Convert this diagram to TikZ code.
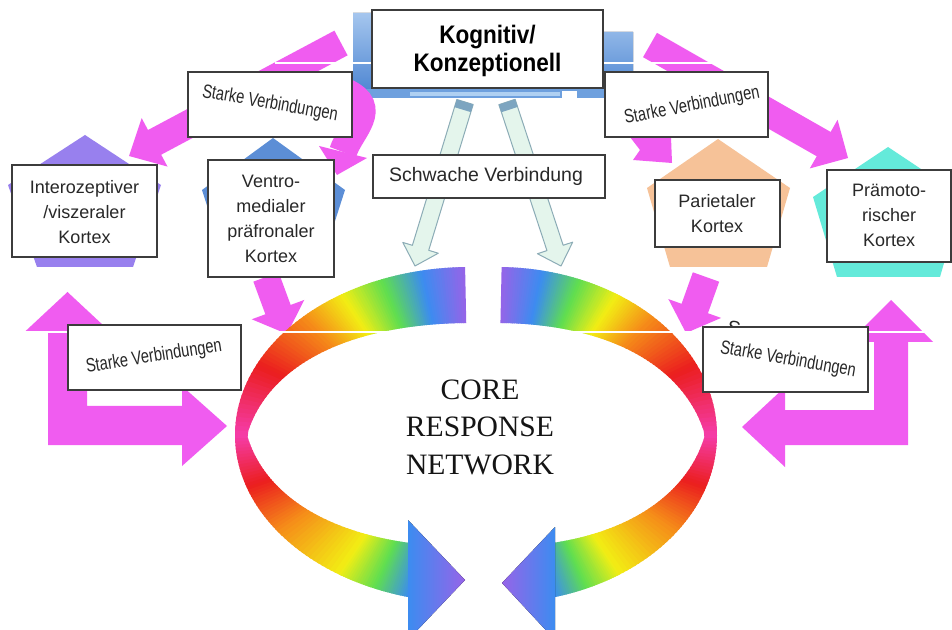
\documentclass[tikz,border=0pt]{standalone}
\usepackage{fontspec}
\setmainfont{Liberation Sans}
\newfontfamily\corefont{Liberation Serif}
\usetikzlibrary{calc,fit}
\definecolor{magf}{RGB}{240,92,240}
\definecolor{boxline}{RGB}{60,60,60}
\definecolor{txtc}{RGB}{40,40,40}
\definecolor{pinter}{RGB}{152,128,238}
\definecolor{pventro}{RGB}{92,142,214}
\definecolor{ppariet}{RGB}{246,194,152}
\definecolor{ppraemo}{RGB}{100,234,218}
\definecolor{rpu}{RGB}{150,100,232}
\definecolor{rbl}{RGB}{60,140,240}
\definecolor{rgr}{RGB}{95,222,80}
\definecolor{rye}{RGB}{242,238,20}
\definecolor{ror}{RGB}{245,140,25}
\definecolor{rre}{RGB}{235,30,30}
\definecolor{rpi}{RGB}{245,60,170}
\definecolor{wfill}{RGB}{228,245,236}
\definecolor{wline}{RGB}{140,172,182}
\definecolor{wcap}{RGB}{125,165,192}
\definecolor{barlt}{RGB}{165,198,238}
\definecolor{bardk}{RGB}{78,134,210}
\definecolor{barst}{RGB}{110,160,222}
\definecolor{barst2}{RGB}{175,208,242}
\newcommand\blockarrow[6][]{%
  \coordinate (bahb) at ($(#3)!#6!(#2)$);
  \path[#1] ($(#2)!#4!90:(#3)$) -- ($(bahb)!#4!-90:(#2)$) -- ($(bahb)!#5!-90:(#2)$) -- (#3) -- ($(bahb)!#5!90:(#2)$) -- ($(bahb)!#4!90:(#2)$) -- ($(#2)!#4!-90:(#3)$) -- cycle;}
\newcommand\arrowcap[3]{%
  \coordinate (bacp) at ($(#1)!6pt!(#2)$);
  \fill[wcap] ($(#1)!#3!90:(#2)$) -- ($(bacp)!#3!-90:(#1)$) -- ($(bacp)!#3!90:(#1)$) -- ($(#1)!#3!-90:(#2)$) -- cycle;}
\begin{document}
\begin{tikzpicture}[x=0.75pt,y=-0.75pt,
  box/.style={draw=boxline, fill=white, line width=0.9pt, inner sep=0pt},
  txt/.style={text=txtc, align=center, inner sep=0pt},
  lbl/.style={txt, font=\fontsize{13.5}{18.75}\selectfont},
  stk/.style={txt, font=\fontsize{14.5}{16}\selectfont},
  mag/.style={fill=magf},
  weak/.style={fill=wfill, draw=wline, line width=0.75pt, line join=round},
  declare function={dw(\t)=12+44*abs(cos(\t));}
]
\useasboundingbox (0,0) rectangle (952,630);
\clip (0,0) rectangle (952,630);
\fill[white] (0,0) rectangle (952,630);

% blue bar behind the top box
\fill[top color=barlt, bottom color=bardk] (353,13) -- (603,13) -- (603,32) -- (633,32) -- (633,92) -- (353,92) -- cycle;
\fill[barst] (353,89) rectangle (633,98);
\fill[barst2] (410,92) rectangle (560,96);
\fill[white] (562,91) rectangle (577,98);

% pentagons
\fill[pinter] (85,135) -- (161,185) -- (133,267) -- (37,267) -- (8,185) -- cycle;
\fill[pventro] (273,138) -- (345,190) -- (318,274) -- (229,274) -- (202,190) -- cycle;
\fill[ppariet] (718,139) -- (790,188) -- (767,267) -- (670,267) -- (647,188) -- cycle;
\fill[ppraemo] (888,147) -- (963,197) -- (940,277) -- (837,277) -- (813,197) -- cycle;

% upper magenta arrows
\coordinate (a1s) at (341,43); \coordinate (a1t) at (129,156);
\blockarrow[mag]{a1s}{a1t}{10.5pt}{20.6pt}{21.75pt}
\coordinate (a3s) at (650,45); \coordinate (a3t) at (848,158);
\blockarrow[mag]{a3s}{a3t}{10.5pt}{21pt}{21pt}
\coordinate (a2s) at (345,92); \coordinate (a2e) at (343,152);
\draw[magf, line width=21pt] (a2s) .. controls (380,108) and (350,130) .. (a2e);
\fill[magf] (319,146) -- (367,158) -- (337,175) -- cycle;
\fill[magf] (630,137) -- (671,137) -- (672,163) -- (633,160) -- (640,150) -- cycle;

% weak (hollow) arrows
\coordinate (w1s) at (465,102); \coordinate (w1t) at (415,266);
\blockarrow[weak]{w1s}{w1t}{6.4pt}{13.9pt}{14.25pt}
\arrowcap{w1s}{w1t}{6.4pt}
\coordinate (w2s) at (507,102); \coordinate (w2t) at (561,266);
\blockarrow[weak]{w2s}{w2t}{6.4pt}{13.9pt}{14.25pt}
\arrowcap{w2s}{w2t}{6.4pt}

% lower magenta arrows into the core
\coordinate (a5s) at (266,277); \coordinate (a5t) at (287,334);
\blockarrow[mag]{a5s}{a5t}{10.1pt}{21pt}{19.5pt}
\coordinate (a6s) at (706,277); \coordinate (a6t) at (686,333);
\blockarrow[mag]{a6s}{a6t}{10.5pt}{21pt}{19.5pt}

% rainbow core ring
\foreach \fs/\fe/\ca/\cb in {1.2/12/rpu/rbl,12/22/rbl/rgr,22/33/rgr/rye,33/45/rye/ror,45/65/ror/rre,65/90/rre/rpi,90/108/rpi/rre,108/125/rre/ror,125/146/ror/rye,146/156/rye/rgr,156/164.8/rgr/rbl}{
  \foreach \i in {0,...,15}{
    \pgfmathsetmacro\fa{\fs+(\fe-\fs)*\i/16}
    \pgfmathsetmacro\fb{\fs+(\fe-\fs)*(\i+1.5)/16}
    \pgfmathtruncatemacro\pp{100*(\i+0.5)/16}
    \colorlet{segc}{\cb!\pp!\ca}
    \fill[segc] ({470-235*sin(\fa)},{435-168*cos(\fa)}) -- ({470-235*sin(\fb)},{435-168*cos(\fb)}) -- ({470-(235-dw(\fb))*sin(\fb)},{435-(168-dw(\fb))*cos(\fb)}) -- ({470-(235-dw(\fa))*sin(\fa)},{435-(168-dw(\fa))*cos(\fa)}) -- cycle;
    \fill[segc] ({497+220*sin(\fa)},{435-168*cos(\fa)}) -- ({497+220*sin(\fb)},{435-168*cos(\fb)}) -- ({497+(220-dw(\fb))*sin(\fb)},{435-(168-dw(\fb))*cos(\fb)}) -- ({497+(220-dw(\fa))*sin(\fa)},{435-(168-dw(\fa))*cos(\fa)}) -- cycle;
  }
}
\fill[left color=rbl, right color=rpu] (408,520) -- (465,580) -- (408,640) -- cycle;
\fill[left color=rpu, right color=rbl] (502,583) -- (555,527) -- (555,640) -- cycle;

% bent double arrows
\fill[magf] (48,445) -- (48,333) -- (23.5,333) -- (67.5,292) -- (111.5,333) -- (87,333) -- (87,406) -- (182,406) -- (182,386) -- (227,426) -- (182,466) -- (182,445) -- cycle;
\fill[magf] (908,445) -- (908,342) -- (933,342) -- (891,300) -- (849,342) -- (874,342) -- (874,410) -- (785,410) -- (785,387) -- (742,427) -- (785,467) -- (785,445) -- cycle;

% scan seams
\draw[white, line width=1.1pt] (20,332) -- (935,332);
\draw[white, line width=0.9pt] (275,63) -- (722,63);

% partly hidden letter
\node[stk, rotate=-10] at (734,328) {S};

% boxes and labels
\node[box, fit={(372,10) (603,88)}] (kog) {};
\node[txt, text=black, font=\bfseries\fontsize{19}{21}\selectfont] (kogT) at (487.5,51) {\scalebox{.89}[1]{Kognitiv/}\\\scalebox{.89}[1]{Konzeptionell}};

\node[box, fit={(188,72) (352,137)}] (stTL) {};
\node[stk, rotate=-10] (stTLT) at (270,104) {\scalebox{.76}[1]{Starke Verbindungen}};
\node[box, fit={(605,72) (768,137)}] (stTR) {};
\node[stk, rotate=11] (stTRT) at (692,106) {\scalebox{.76}[1]{Starke Verbindungen}};
\node[box, fit={(68,325) (241,390)}] (stBL) {};
\node[stk, rotate=9] (stBLT) at (154,357) {\scalebox{.76}[1]{Starke Verbindungen}};
\node[box, fit={(703,327) (868,392)}] (stBR) {};
\node[stk, rotate=-10] (stBRT) at (788,360) {\scalebox{.76}[1]{Starke Verbindungen}};

\node[box, fit={(373,155) (605,198)}] (schw) {};
\node[txt, font=\fontsize{14.6}{17}\selectfont] (schwT) at (486,176) {Schwache Verbindung};

\node[box, fit={(12,165) (157,257)}] (inter) {};
\node[lbl] (interT) at (84.5,212) {Interozeptiver\\/viszeraler\\Kortex};
\node[box, fit={(208,160) (334,277)}] (ventro) {};
\node[lbl] (ventroT) at (271,219) {Ventro-\\medialer\\präfronaler\\Kortex};
\node[box, fit={(655,180) (780,247)}] (pariet) {};
\node[lbl] (parietT) at (717,214) {Parietaler\\Kortex};
\node[box, fit={(827,170) (951,262)}] (praemo) {};
\node[lbl] (praemoT) at (889,215) {Prämoto-\\rischer\\Kortex};

\node[font=\corefont\fontsize{22.2}{28.1}\selectfont, align=center, text={rgb,255:red,20;green,20;blue,20}, inner sep=0pt] (core) at (480,427) {CORE\\RESPONSE\\NETWORK};
\end{tikzpicture}
\end{document}
